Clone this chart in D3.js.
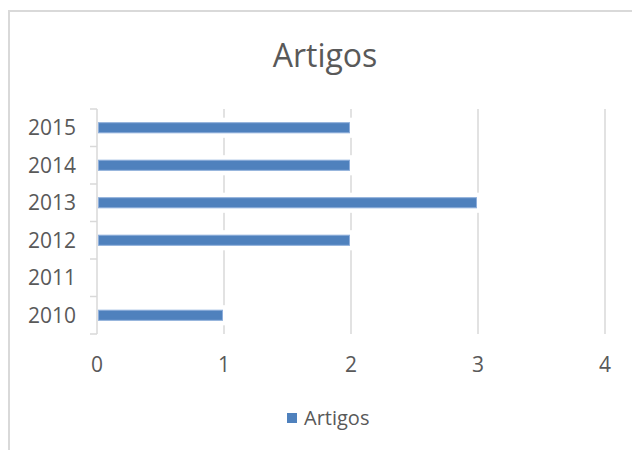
<!DOCTYPE html>
<html>
<head>
<meta charset="utf-8">
<script src="https://cdn.jsdelivr.net/npm/d3@7"></script>
<style>
    html, body { margin: 0; padding: 0; background: #fff; }
    svg { display: block; font-family: "Open Sans", sans-serif; }
</style>
</head>
<body>
<div id="chart"></div>
<script>
// data
var years = ['2010', '2011', '2012', '2013', '2014', '2015'];
var artigos = [1, 0, 2, 3, 2, 2];
var xTicks = [0, 1, 2, 3, 4];
var seriesName = 'Artigos';
var title = 'Artigos';

var width = 632,
    height = 450,
    plotLeft = 97,
    plotRight = 605,
    plotTop = 109,
    plotBottom = 334,
    textColor = '#595959',
    gridColor = '#d9d9d9',
    barColor = '#4f81bd';

var svg = d3.select('#chart').append('svg')
    .attr('width', width)
    .attr('height', height);

// chart frame (runs past the right and bottom edges)
svg.append('rect')
    .attr('x', 9)
    .attr('y', 11)
    .attr('width', 700)
    .attr('height', 500)
    .attr('fill', '#fff')
    .attr('stroke', gridColor)
    .attr('stroke-width', 2);

var xScale = d3.scaleLinear()
    .domain([0, 4])
    .range([plotLeft, plotRight]);

var yScale = d3.scaleBand()
    .domain(years)
    .range([plotBottom, plotTop])
    .paddingInner(0.73)
    .paddingOuter(0.365);

var step = yScale.step();

// vertical gridlines
svg.append('g').selectAll('line')
    .data(xTicks.filter(function(d) { return d > 0; }))
    .enter()
    .append('line')
    .attr('x1', function(d) { return xScale(d); })
    .attr('x2', function(d) { return xScale(d); })
    .attr('y1', plotTop)
    .attr('y2', plotBottom)
    .attr('stroke', gridColor)
    .attr('stroke-width', 1.5);

// bars, with the white halo that breaks the gridlines
var rows = years.map(function(y, i) { return {year: y, value: artigos[i]}; })
    .filter(function(d) { return d.value > 0; });

var bars = svg.append('g');

bars.selectAll('.halo')
    .data(rows)
    .enter()
    .append('rect')
    .attr('class', 'halo')
    .attr('x', xScale(0) + 1)
    .attr('y', function(d) { return yScale(d.year) - 5; })
    .attr('width', function(d) { return xScale(d.value) - xScale(0) + 3; })
    .attr('height', yScale.bandwidth() + 10)
    .attr('fill', '#fff');

bars.selectAll('.bar')
    .data(rows)
    .enter()
    .append('rect')
    .attr('class', 'bar')
    .attr('x', xScale(0) + 1.5)
    .attr('y', function(d) { return yScale(d.year); })
    .attr('width', function(d) { return xScale(d.value) - xScale(0) - 3; })
    .attr('height', yScale.bandwidth())
    .attr('fill', barColor)
    .attr('stroke', '#8eaedb')
    .attr('stroke-width', 1);

// y axis: line, ticks at category boundaries, labels
var yAxis = svg.append('g');

yAxis.append('line')
    .attr('x1', plotLeft)
    .attr('x2', plotLeft)
    .attr('y1', plotTop)
    .attr('y2', plotBottom)
    .attr('stroke', gridColor)
    .attr('stroke-width', 1.5);

yAxis.selectAll('.tick')
    .data(d3.range(years.length + 1))
    .enter()
    .append('line')
    .attr('class', 'tick')
    .attr('x1', plotLeft - 7)
    .attr('x2', plotLeft)
    .attr('y1', function(i) { return plotBottom - i * step; })
    .attr('y2', function(i) { return plotBottom - i * step; })
    .attr('stroke', gridColor)
    .attr('stroke-width', 1.5);

yAxis.selectAll('text')
    .data(years)
    .enter()
    .append('text')
    .attr('x', 76)
    .attr('y', function(d) { return yScale(d) + yScale.bandwidth() / 2; })
    .attr('dy', '0.36em')
    .attr('text-anchor', 'end')
    .attr('fill', textColor)
    .style('font-size', '21px')
    .text(function(d) { return d; });

// x tick labels
svg.append('g').selectAll('text')
    .data(xTicks)
    .enter()
    .append('text')
    .attr('x', function(d) { return xScale(d); })
    .attr('y', 372)
    .attr('text-anchor', 'middle')
    .attr('fill', textColor)
    .style('font-size', '21px')
    .text(function(d) { return d; });

// title
svg.append('text')
    .attr('x', 325)
    .attr('y', 67)
    .attr('text-anchor', 'middle')
    .attr('fill', textColor)
    .style('font-size', '32px')
    .text(title);

// legend
var legend = svg.append('g');

legend.append('rect')
    .attr('x', 287)
    .attr('y', 413)
    .attr('width', 10)
    .attr('height', 10)
    .attr('fill', barColor);

legend.append('text')
    .attr('x', 304)
    .attr('y', 425)
    .attr('fill', textColor)
    .style('font-size', '20px')
    .text(seriesName);
</script>
</body>
</html>
